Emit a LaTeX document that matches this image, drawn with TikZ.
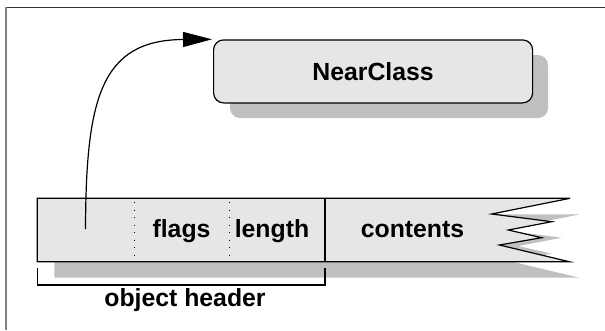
\documentclass[tikz,border=0pt]{standalone}
\usepackage{fontspec}
\setmainfont{Liberation Sans}
\usetikzlibrary{arrows.meta}
\definecolor{boxgray}{HTML}{E6E6E6}
\definecolor{shadowgray}{HTML}{C0C0C0}
\begin{document}
\begin{tikzpicture}[x=1pt, y=-1pt, line join=miter,
  lbl/.style={font=\fontsize{24.8}{28}\selectfont\bfseries, inner sep=0pt, anchor=base},
  outline/.style={line width=1.2pt, draw=black},
  sepdots/.style={line width=1.3pt, dash pattern=on 1.3pt off 6.2pt}]
\useasboundingbox (0,0) rectangle (605,330);

% page frame (top and left edges)
\draw[line width=1.3pt, black!80] (5,7.3) -- (605,7.3);
\draw[line width=2pt, black!50] (5.7,6.6) -- (5.7,330);

% class box with its drop shadow
\fill[shadowgray, rounded corners=10pt] (230,55) rectangle (548,118);
\node[outline, fill=boxgray, rounded corners=10pt, minimum width=319pt,
      minimum height=63pt, anchor=north west, inner sep=0pt,
      font=\fontsize{24.8}{28}\selectfont\bfseries] (near) at (213,39.3) {NearClass};

% object strip shadow and body with torn right end
\fill[shadowgray] (54.3,214.3) -- (580,214.3) -- (501.7,230) -- (561.7,237.7)
  -- (518.3,246) -- (551.7,253.7) -- (509.3,261) -- (579.3,277.7)
  -- (54.3,277.7) -- cycle;
\filldraw[outline, fill=boxgray] (37.3,198.3) -- (570,198.3) -- (491.7,214)
  -- (551.7,221.7) -- (508.3,230) -- (541.7,237.7) -- (499.3,245)
  -- (569.3,261.7) -- (37.3,261.7) -- cycle;

% field separators
\draw[sepdots] (134.3,202) -- (134.3,261);
\draw[sepdots] (229.3,202) -- (229.3,261);
\draw[outline] (325,198.3) -- (325,261.7);

% field labels
\node[lbl] (flags) at (181.5,237) {flags};
\node[lbl] (length) at (272,237) {length};
\node[lbl] (contents) at (412.5,237) {contents};

% header bracket
\draw[outline] (37.3,268) -- (37.3,285) -- (325,285) -- (325,268);
\node[lbl] (hdr) at (185,306.7) {object header};

% class pointer
\coordinate (ptr) at (85.5,229);
\coordinate (tip) at ([xshift=-1pt]near.north west);
\draw[outline, -{Triangle[length=29pt, width=15pt]}]
  (ptr) .. controls (86,100) and (100,40) .. (tip);
\end{tikzpicture}
\end{document}
